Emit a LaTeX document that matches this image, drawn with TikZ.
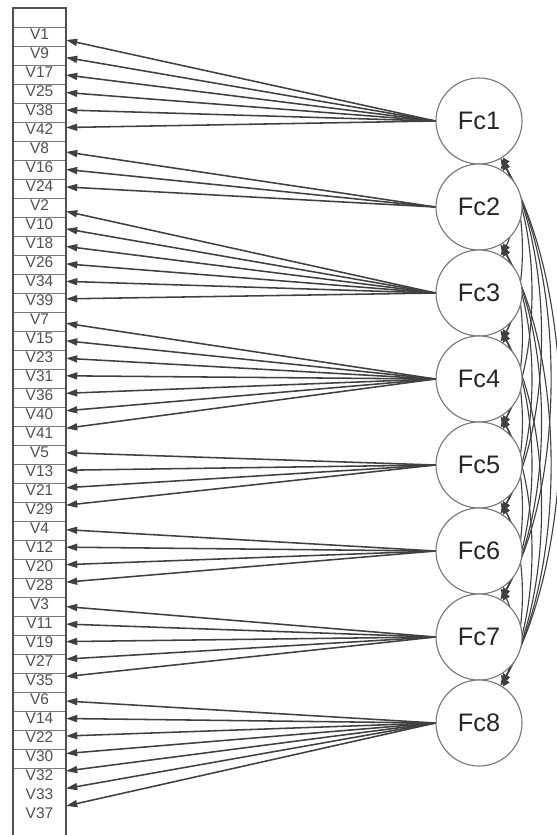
\documentclass[tikz,border=0pt]{standalone}
\usepackage{fontspec}
\setmainfont{Liberation Sans}
\usepackage{xcolor}
\definecolor{semline}{RGB}{64,64,64}
\definecolor{semgray}{RGB}{120,120,120}
\definecolor{semframe}{RGB}{80,80,80}
\definecolor{semtext}{RGB}{80,80,80}
\usetikzlibrary{arrows.meta, backgrounds}

\begin{document}
\begin{tikzpicture}[
  x=0.025cm, y=-0.025cm,
  factor/.style={circle, draw=semgray, line width=0.8pt, fill=white,
                 minimum size=2.15cm, inner sep=0pt,
                 font=\fontsize{18}{20}\selectfont, text=black!85},
  vrow/.style={rectangle, draw=semgray, line width=0.6pt, fill=white,
               minimum width=1.325cm, minimum height=0.475cm, inner sep=0pt,
               font=\fontsize{11}{12}\selectfont, text=semtext, text depth=4pt},
  vfree/.style={vrow, draw=none},
  load/.style={-{Triangle[length=8pt,width=5pt]}, line width=1.1pt, draw=semline},
  corr/.style={{Triangle[length=8pt,width=5pt]}-{Triangle[length=8pt,width=5pt]},
               line width=0.8pt, draw=semline}
]
\useasboundingbox (0,0) rectangle (557,835);

% Variable column head
\node[vrow] (head) at (39.5,17.5) {};

% Factor 1
\node[factor] (f1) at (479,121) {Fc1};
\foreach \v [count=\k from 0] in {1,9,17,25,38,42} {
  \node[vrow] (v\v) at (39.5,{36.5+19*\k}) {V\v};
  \coordinate (t\v) at (66,{40+17.5*\k});
  \draw[load] (f1.west) -- (t\v);
}

% Factor 2
\node[factor] (f2) at (479,207) {Fc2};
\foreach \v [count=\k from 6] in {8,16,24} {
  \node[vrow] (v\v) at (39.5,{36.5+19*\k}) {V\v};
  \coordinate (t\v) at (66,{40+17.5*\k+6.93});
  \draw[load] (f2.west) -- (t\v);
}

% Factor 3
\node[factor] (f3) at (479,293) {Fc3};
\foreach \v [count=\k from 9] in {2,10,18,26,34,39} {
  \node[vrow] (v\v) at (39.5,{36.5+19*\k}) {V\v};
  \coordinate (t\v) at (66,{40+17.5*\k+2*6.93});
  \draw[load] (f3.west) -- (t\v);
}

% Factor 4
\node[factor] (f4) at (479,379) {Fc4};
\foreach \v [count=\k from 15] in {7,15,23,31,36,40,41} {
  \node[vrow] (v\v) at (39.5,{36.5+19*\k}) {V\v};
  \coordinate (t\v) at (66,{40+17.5*\k+3*6.93});
  \draw[load] (f4.west) -- (t\v);
}

% Factor 5
\node[factor] (f5) at (479,465) {Fc5};
\foreach \v [count=\k from 22] in {5,13,21,29} {
  \node[vrow] (v\v) at (39.5,{36.5+19*\k}) {V\v};
  \coordinate (t\v) at (66,{40+17.5*\k+4*6.93});
  \draw[load] (f5.west) -- (t\v);
}

% Factor 6
\node[factor] (f6) at (479,551) {Fc6};
\foreach \v [count=\k from 26] in {4,12,20,28} {
  \node[vrow] (v\v) at (39.5,{36.5+19*\k}) {V\v};
  \coordinate (t\v) at (66,{40+17.5*\k+5*6.93});
  \draw[load] (f6.west) -- (t\v);
}

% Factor 7
\node[factor] (f7) at (479,637) {Fc7};
\foreach \v [count=\k from 30] in {3,11,19,27,35} {
  \node[vrow] (v\v) at (39.5,{36.5+19*\k}) {V\v};
  \coordinate (t\v) at (66,{40+17.5*\k+6*6.93});
  \draw[load] (f7.west) -- (t\v);
}

% Factor 8 (last two rows unboxed)
\node[factor] (f8) at (479,723) {Fc8};
\foreach \v [count=\k from 35] in {6,14,22,30,32} {
  \node[vrow] (v\v) at (39.5,{36.5+19*\k}) {V\v};
  \coordinate (t\v) at (66,{40+17.5*\k+7*6.93});
  \draw[load] (f8.west) -- (t\v);
}
\foreach \v [count=\k from 40] in {33,37} {
  \node[vfree] (v\v) at (39.5,{36.5+19*\k}) {V\v};
  \coordinate (t\v) at (66,{40+17.5*\k+7*6.93});
  \draw[load] (f8.west) -- (t\v);
}

% Column frame
\draw[semframe, line width=0.9pt] (13,835) |- (66,8) -- (66,835);

% Factor covariances
\begin{scope}[on background layer]
\foreach \i in {1,...,7} {
  \pgfmathtruncatemacro{\nxt}{\i+1}
  \foreach \j in {\nxt,...,8}
    \draw[corr] (f\i.-60) to[out=-60, in=60, looseness=0.76] (f\j.60);
}
\end{scope}
\end{tikzpicture}
\end{document}
